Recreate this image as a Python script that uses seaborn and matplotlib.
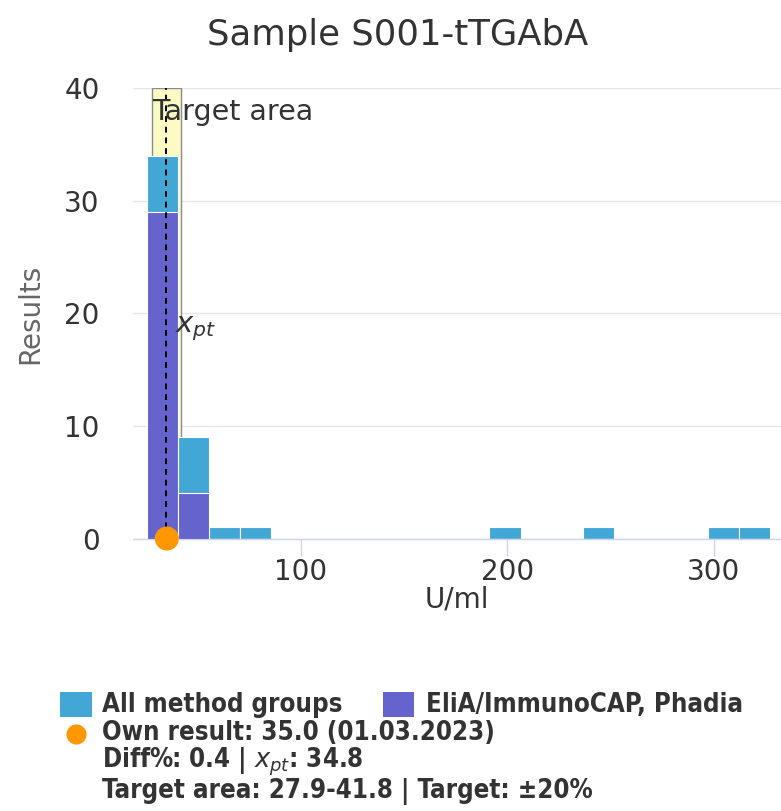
import numpy as np
import pandas as pd
import matplotlib
matplotlib.use("Agg")
import matplotlib.pyplot as plt
import seaborn as sns
from matplotlib.patches import Rectangle
from matplotlib.lines import Line2D

sns.set_theme(style="white")
plt.rcParams['font.family'] = ['DejaVu Sans']
plt.rcParams['mathtext.fontset'] = 'dejavusans'

# histogram data (bin lower edges, U/ml)
bin_start = 25.3
bin_width = 15.1
all_bins = [25.3, 40.4, 55.5, 70.6, 191.4, 236.7, 297.1, 312.2]
all_counts = [34, 9, 1, 1, 1, 1, 1, 1]
phadia_bins = [25.3, 40.4]
phadia_counts = [29, 4]

own_result = 35.0
x_pt = 34.8
target_low, target_high = 27.9, 41.8

title = "Sample S001-tTGAbA"
legend_all = "All method groups"
legend_phadia = "EliA/ImmunoCAP, Phadia"
legend_own = "Own result: 35.0 (01.03.2023)"
legend_diff = "Diff%: 0.4 | $x_{pt}$: 34.8"
legend_target = "Target area: 27.9-41.8 | Target: \u00b120%"

c_all = "#43a7d5"
c_phadia = "#6563cc"
c_own = "#ff9800"
txt = "#333333"

df_all = pd.DataFrame({"x": np.array(all_bins) + bin_width / 2, "n": all_counts})
df_ph = pd.DataFrame({"x": np.array(phadia_bins) + bin_width / 2, "n": phadia_counts})
binrange = (bin_start, bin_start + 20 * bin_width)

W, H = 781, 811
fig = plt.figure(figsize=(W / 100, H / 100), dpi=100)
ax = fig.add_axes([133 / W, 1 - 538.5 / H, 1 - 133 / W, (538.5 - 88.3) / H])


def px(x, y):
    return x / W, 1 - y / H


# target area band
ax.axvspan(target_low, target_high, facecolor="#fbfbc4", edgecolor="#8c8c8c",
           linewidth=1, zorder=1)

sns.histplot(data=df_all, x="x", weights="n", binwidth=bin_width, binrange=binrange,
             color=c_all, alpha=1, edgecolor="white", linewidth=0.8, ax=ax, zorder=2)
sns.histplot(data=df_ph, x="x", weights="n", binwidth=bin_width, binrange=binrange,
             color=c_phadia, alpha=1, edgecolor="white", linewidth=0.8, ax=ax, zorder=3)

ax.axvline(x_pt, color="black", linestyle=(0, (3, 2.5)), linewidth=1.4, zorder=4)
sns.scatterplot(x=[own_result], y=[0], color=c_own, s=300, edgecolor="none",
                ax=ax, zorder=5, clip_on=False)

ax.text(target_low, 37.2, "Target area", fontsize=20.5, color=txt, va="baseline",
        ha="left", zorder=6)
ax.text(39.0, 18.3, "$x_{pt}$", fontsize=21, color=txt, va="baseline", ha="left",
        zorder=6)

ax.set_xlim(18.6, 332.7)
ax.set_ylim(0, 40)
ax.set_xticks([100, 200, 300])
ax.set_yticks([0, 10, 20, 30, 40])
ax.yaxis.grid(True, color="#e6e6e6", linewidth=1)
ax.xaxis.grid(False)
ax.set_axisbelow(True)
for s in ["top", "right", "left"]:
    ax.spines[s].set_visible(False)
ax.spines["bottom"].set_color("#ccd6eb")
ax.spines["bottom"].set_linewidth(1)
ax.tick_params(axis="x", length=12, width=1, color="#ccd6eb", pad=2,
               labelsize=20, labelcolor=txt, bottom=True)
ax.tick_params(axis="y", length=0, pad=24, labelsize=20, labelcolor=txt)
ax.set_xlabel("U/ml", fontsize=20, color=txt, labelpad=0)
ax.set_ylabel("Results", fontsize=20, color="#666666", labelpad=14)

fig.text(*px(398, 35), title, fontsize=25.5, color=txt, ha="center", va="center")

# legend drawn by hand
fig.add_artist(Rectangle(px(60, 717), 32 / W, 25 / H, transform=fig.transFigure,
                         facecolor=c_all, edgecolor="none"))
fig.add_artist(Rectangle(px(383, 717), 31 / W, 25 / H, transform=fig.transFigure,
                         facecolor=c_phadia, edgecolor="none"))
fig.add_artist(Line2D([76 / W], [1 - 734 / H], marker="o", markersize=14.5,
                      color=c_own, markeredgewidth=0, transform=fig.transFigure))
lt = dict(fontsize=18.5, fontweight="bold", fontstretch="condensed", color=txt,
          va="baseline", ha="left")
fig.text(*px(102, 712), legend_all, **lt)
fig.text(*px(426, 712), legend_phadia, **lt)
fig.text(*px(102, 740), legend_own, **lt)
fig.text(*px(102, 767), legend_diff, **lt)
fig.text(*px(102, 798), legend_target, **lt)

fig.savefig("out.png", dpi=100)
